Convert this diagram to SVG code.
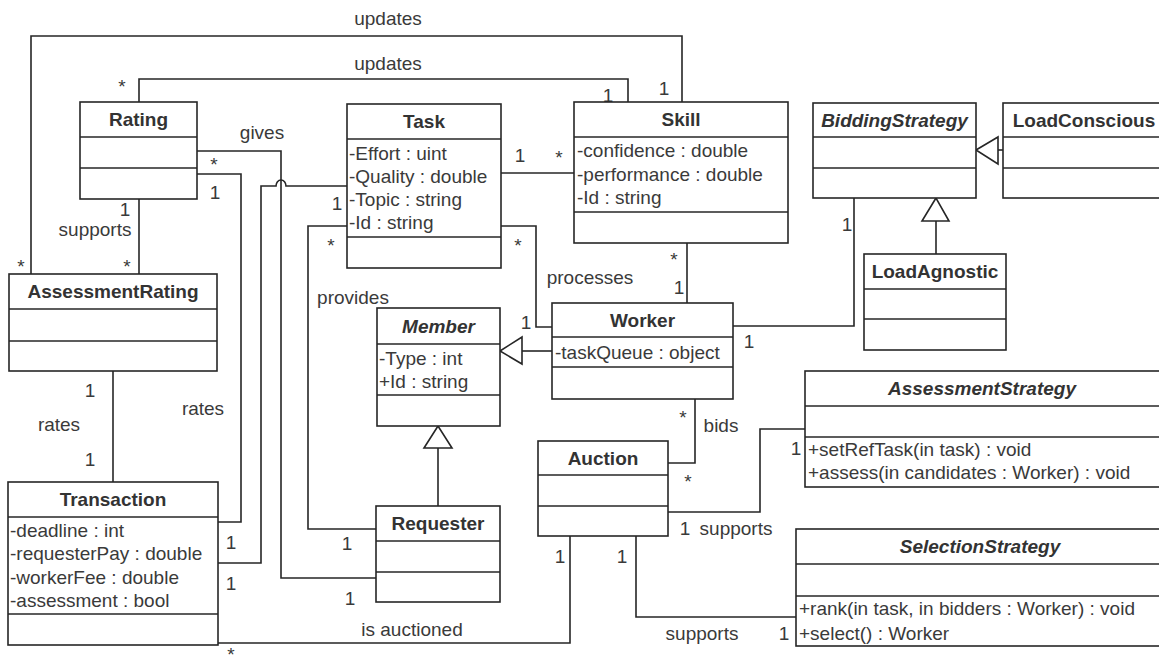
<svg xmlns="http://www.w3.org/2000/svg" width="1159" height="657" viewBox="0 0 1159 657">
<style>
.box{fill:#fff;stroke:#262626;stroke-width:1.6}
.dv{stroke:#262626;stroke-width:1.6}
.ln{fill:none;stroke:#262626;stroke-width:1.6}
.tri{fill:#fff;stroke:#262626;stroke-width:1.6}
text{font-family:"Liberation Sans",Arial,Helvetica,sans-serif;font-size:19px;fill:#3a3a3a}
.ttl{font-weight:bold;text-anchor:middle;fill:#333}
.it{font-style:italic}
.m{text-anchor:middle}
</style>
<rect width="1159" height="657" fill="#fff"/>
<g id="connectors">
  <polyline class="ln" points="31,274 31,36 682,36 682,102"/>
  <polyline class="ln" points="139,102 139,79 628,79 628,102"/>
  <polyline class="ln" points="139,199 139,274"/>
  <polyline class="ln" points="113,371 113,482"/>
  <polyline class="ln" points="197,151 281,151 281,578 376,578"/>
  <polyline class="ln" points="197,174 241,174 241,522 218,522"/>
  <path class="ln" d="M347,186 H286 A5,6 0 0 0 276,186 H261 V563 H218"/>
  <polyline class="ln" points="347,226 308,226 308,529 376,529"/>
  <polyline class="ln" points="501,226 536,226 536,327 552,327"/>
  <polyline class="ln" points="501,173 574,173"/>
  <polyline class="ln" points="687,243 687,303"/>
  <polyline class="ln" points="733,326 854,326 854,198"/>
  <polyline class="ln" points="552,351 522,351"/>
  <polygon class="tri" points="500,351 522,337 522,364"/>
  <polyline class="ln" points="438,506 438,448"/>
  <polygon class="tri" points="438,426 424,448 452,448"/>
  <polyline class="ln" points="936,254 936,221"/>
  <polygon class="tri" points="936,198 922,221 949,221"/>
  <polyline class="ln" points="1003,150 998,150"/>
  <polygon class="tri" points="976,150 998,137 998,164"/>
  <polyline class="ln" points="695,399 695,463 668,463"/>
  <polyline class="ln" points="668,512 760,512 760,429 805,429"/>
  <polyline class="ln" points="636,536 636,617 796,617"/>
  <polyline class="ln" points="218,643 570,643 570,536"/>
  <text class="m" x="388" y="25">updates</text>
  <text class="m" x="388" y="70">updates</text>
  <text class="m" x="21" y="273">*</text>
  <text class="m" x="664" y="95">1</text>
  <text class="m" x="122" y="93">*</text>
  <text class="m" x="608" y="102">1</text>
  <text class="m" x="125" y="216">1</text>
  <text class="m" x="127" y="273">*</text>
  <text class="m" x="95" y="236">supports</text>
  <text class="m" x="90" y="397">1</text>
  <text class="m" x="59" y="431">rates</text>
  <text class="m" x="90" y="466">1</text>
  <text class="m" x="214" y="171">*</text>
  <text class="m" x="262" y="139">gives</text>
  <text class="m" x="350" y="605">1</text>
  <text class="m" x="215" y="199">1</text>
  <text class="m" x="231" y="549">1</text>
  <text class="m" x="203" y="415">rates</text>
  <text class="m" x="337" y="210">1</text>
  <text class="m" x="231" y="590">1</text>
  <text class="m" x="331" y="252">*</text>
  <text class="m" x="347" y="550">1</text>
  <text class="m" x="353" y="304">provides</text>
  <text class="m" x="518" y="252">*</text>
  <text class="m" x="526" y="329">1</text>
  <text class="m" x="590" y="284">processes</text>
  <text class="m" x="520" y="162">1</text>
  <text class="m" x="559" y="164">*</text>
  <text class="m" x="674" y="266">*</text>
  <text class="m" x="679" y="294">1</text>
  <text class="m" x="847" y="231">1</text>
  <text class="m" x="749" y="348">1</text>
  <text class="m" x="683" y="424">*</text>
  <text class="m" x="688" y="488">*</text>
  <text class="m" x="721" y="432">bids</text>
  <text class="m" x="796" y="455">1</text>
  <text class="m" x="685" y="535">1</text>
  <text class="m" x="736" y="535">supports</text>
  <text class="m" x="622" y="563">1</text>
  <text class="m" x="784" y="640">1</text>
  <text class="m" x="702" y="640">supports</text>
  <text class="m" x="231" y="661">*</text>
  <text class="m" x="560" y="563">1</text>
  <text class="m" x="412" y="636">is auctioned</text>
</g>
<g id="Rating">
  <rect class="box" x="80" y="102" width="117" height="97"/>
  <line class="dv" x1="80" y1="137" x2="197" y2="137"/>
  <line class="dv" x1="80" y1="168" x2="197" y2="168"/>
  <text class="ttl" x="138.5" y="126">Rating</text>
</g>
<g id="Task">
  <rect class="box" x="347" y="104" width="154" height="164"/>
  <line class="dv" x1="347" y1="139" x2="501" y2="139"/>
  <line class="dv" x1="347" y1="237" x2="501" y2="237"/>
  <text class="ttl" x="424" y="128">Task</text>
  <text x="349" y="160">-Effort : uint</text>
  <text x="349" y="183">-Quality : double</text>
  <text x="349" y="206">-Topic : string</text>
  <text x="349" y="229">-Id : string</text>
</g>
<g id="Skill">
  <rect class="box" x="574" y="102" width="214" height="141"/>
  <line class="dv" x1="574" y1="137" x2="788" y2="137"/>
  <line class="dv" x1="574" y1="212" x2="788" y2="212"/>
  <text class="ttl" x="681" y="126">Skill</text>
  <text x="577" y="157">-confidence : double</text>
  <text x="577" y="181">-performance : double</text>
  <text x="577" y="204">-Id : string</text>
</g>
<g id="BiddingStrategy">
  <rect class="box" x="813" y="103" width="163" height="95"/>
  <line class="dv" x1="813" y1="137" x2="976" y2="137"/>
  <line class="dv" x1="813" y1="168" x2="976" y2="168"/>
  <text class="ttl it" x="894.5" y="127">BiddingStrategy</text>
</g>
<g id="LoadConscious">
  <rect class="box" x="1003" y="103" width="162" height="95"/>
  <line class="dv" x1="1003" y1="137" x2="1165" y2="137"/>
  <line class="dv" x1="1003" y1="168" x2="1165" y2="168"/>
  <text class="ttl" x="1084" y="127">LoadConscious</text>
</g>
<g id="LoadAgnostic">
  <rect class="box" x="864" y="254" width="142" height="96"/>
  <line class="dv" x1="864" y1="289" x2="1006" y2="289"/>
  <line class="dv" x1="864" y1="319" x2="1006" y2="319"/>
  <text class="ttl" x="935" y="278">LoadAgnostic</text>
</g>
<g id="Worker">
  <rect class="box" x="552" y="303" width="181" height="96"/>
  <line class="dv" x1="552" y1="337" x2="733" y2="337"/>
  <line class="dv" x1="552" y1="367" x2="733" y2="367"/>
  <text class="ttl" x="642.5" y="327">Worker</text>
  <text x="555" y="359">-taskQueue : object</text>
</g>
<g id="Member">
  <rect class="box" x="377" y="308" width="123" height="118"/>
  <line class="dv" x1="377" y1="344" x2="500" y2="344"/>
  <line class="dv" x1="377" y1="395" x2="500" y2="395"/>
  <text class="ttl it" x="438.5" y="333">Member</text>
  <text x="379" y="365">-Type : int</text>
  <text x="379" y="388">+Id : string</text>
</g>
<g id="Requester">
  <rect class="box" x="376" y="506" width="124" height="96"/>
  <line class="dv" x1="376" y1="541" x2="500" y2="541"/>
  <line class="dv" x1="376" y1="572" x2="500" y2="572"/>
  <text class="ttl" x="438" y="530">Requester</text>
</g>
<g id="Auction">
  <rect class="box" x="538" y="441" width="130" height="95"/>
  <line class="dv" x1="538" y1="475" x2="668" y2="475"/>
  <line class="dv" x1="538" y1="506" x2="668" y2="506"/>
  <text class="ttl" x="603" y="465">Auction</text>
</g>
<g id="AssessmentStrategy">
  <rect class="box" x="805" y="371" width="357" height="116"/>
  <line class="dv" x1="805" y1="406" x2="1162" y2="406"/>
  <line class="dv" x1="805" y1="437" x2="1162" y2="437"/>
  <text class="ttl it" x="982" y="395">AssessmentStrategy</text>
  <text x="808" y="456">+setRefTask(in task) : void</text>
  <text x="808" y="479">+assess(in candidates : Worker) : void</text>
</g>
<g id="SelectionStrategy">
  <rect class="box" x="796" y="529" width="366" height="117"/>
  <line class="dv" x1="796" y1="564" x2="1162" y2="564"/>
  <line class="dv" x1="796" y1="596" x2="1162" y2="596"/>
  <text class="ttl it" x="980" y="553">SelectionStrategy</text>
  <text x="799" y="615">+rank(in task, in bidders : Worker) : void</text>
  <text x="799" y="640">+select() : Worker</text>
</g>
<g id="AssessmentRating">
  <rect class="box" x="9" y="274" width="208" height="97"/>
  <line class="dv" x1="9" y1="309" x2="217" y2="309"/>
  <line class="dv" x1="9" y1="341" x2="217" y2="341"/>
  <text class="ttl" x="113" y="298">AssessmentRating</text>
</g>
<g id="Transaction">
  <rect class="box" x="8" y="482" width="210" height="163"/>
  <line class="dv" x1="8" y1="517" x2="218" y2="517"/>
  <line class="dv" x1="8" y1="614" x2="218" y2="614"/>
  <text class="ttl" x="113" y="506">Transaction</text>
  <text x="10" y="537">-deadline : int</text>
  <text x="10" y="560">-requesterPay : double</text>
  <text x="10" y="584">-workerFee : double</text>
  <text x="10" y="607">-assessment : bool</text>
</g>
</svg>
